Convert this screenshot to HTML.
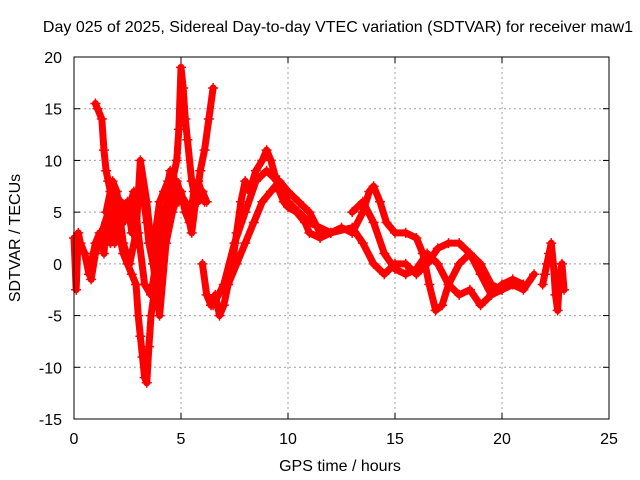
<!DOCTYPE html>
<html><head><meta charset="utf-8">
<style>
body{margin:0;background:#fff;}
svg{display:block;font-family:"Liberation Sans",sans-serif;}
</style></head>
<body>
<svg id="chart" width="640" height="480">
<rect width="640" height="480" fill="#fff"/>
<text x="338" y="32" text-anchor="middle" font-size="16">Day 025 of 2025, Sidereal Day-to-day VTEC variation (SDTVAR) for receiver maw1</text>
<text x="340" y="471" text-anchor="middle" font-size="16">GPS time / hours</text>
<text transform="translate(20,238) rotate(-90)" text-anchor="middle" font-size="16">SDTVAR / TECUs</text>
<g id="grid"></g>
<g id="marks"></g>
<rect x="74" y="57" width="535" height="362" fill="none" stroke="#000" stroke-width="1"/>
</svg>
<script>
const xTicks=[0,5,10,15,20,25];
const yTicks=[-15,-10,-5,0,5,10,15,20];
const seriesA_x=[0,0.1,0.2,0.3,0.5,0.7,0.8,1.0,1.2,1.4,1.5,1.7,1.9,2.0,2.2,2.3,2.5,2.7,2.9,3.0,3.2,3.4,3.5,3.7,3.8,4.0,4.2,4.4,4.5,4.7,4.9,5.0,5.2,5.4,5.6,5.8,6.0,6.2];
const seriesA_y=[2.5,-2.5,3,2,1,-1,0,2,3,1,4,2,5,3,6,4,6,3,7,6,7,4,2,0,3,6,7,8,9,7,6,7,5,4,7,6,7,6];
const seriesB_x=[1.0,1.1,1.3,1.4,1.5,1.6,1.7,1.9,2.1,2.3,2.5,2.7,2.9,3.0,3.1,3.2,3.3,3.4,3.5,3.6,3.8,4.0,4.2,4.4,4.6,4.8,4.9,5.0,5.1,5.2,5.3,5.5,5.7,5.9,6.1,6.3,6.5];
const seriesB_y=[15.5,15,14,11,9,8,7,5,3,1,0,-1,-2,-5,-7,-9,-11,-11.5,-8,-5,-2,0,3,5,8,10,13,19,17,14,12,8,6,9,11,14,17];
const seriesC_x=[6.0,6.2,6.4,6.6,6.8,7.0,7.2,7.4,7.6,7.8,8.0,8.2,8.5,8.8,9.0,9.2,9.4,9.6,9.8,10.0,10.4,10.8,11.0,11.5,12.0,12.5,13.0,13.5,13.8,14.0,14.3,14.6,15.0,15.5,16.0,16.3,16.6,16.9,17.2,17.5,18.0,18.5,19.0,19.5,20.0,20.5,21.0,21.5];
const seriesC_y=[0,-3,-4,-3,-5,-4,-2,0,3,6,8,7,9,10,11,10,8.5,7,6,5.5,5,4,3,2.5,3,3.5,3,5,7,7.5,6,4,3,3,2.5,1,-2,-4.5,-4,-2,0,1,0,-2,-2.5,-2,-2.5,-1];
const seriesD_x=[6.5,7.0,7.5,8.0,8.5,9.0,9.5,10.0,10.5,11.0,12.0,13.0,13.5,14.0,14.5,15.0,15.5,16.0,16.5,17.0,17.5,18.0,18.5,19.0,19.5,20.0,20.5,21.0];
const seriesD_y=[-4,-2,2,5,8,9,8,6,5,4,3,3.5,2,0,-1,0,0,-1,0,1.5,2,2,1,-1,-3,-2,-1.5,-2];
const seriesE_x=[13.0,13.5,14.0,14.5,15.0,15.5,16.0,16.5,17.0,17.5,18.0,18.5,19.0,19.5,20.0];
const seriesE_y=[5,6,4,1,-0.5,-1,-0.5,1,0,-2,-3,-2.5,-4,-3,-2.5];
const seriesF_x=[21.9,22.0,22.1,22.2,22.3,22.4,22.5,22.6,22.7,22.8,22.9];
const seriesF_y=[-2,-1,0,1,2,0,-3,-4.5,-1,0,-2.5];
const seriesG_x=[0.5,0.8,1.0,1.3,1.6,1.9,2.2,2.5,2.8,3.0,3.3,3.6,3.9,4.2,4.5,4.8,5.1,5.4,5.7,6.0];
const seriesG_y=[1,-1.5,1,3,5,2,4,5,7,3,-2,-3,1,5,7,8,6,5,6,7];
const seriesH_x=[1.5,1.8,2.0,2.3,2.6,2.9,3.1,3.4,3.7,4.0,4.3,4.6,4.9,5.2,5.5,5.8,6.1];
const seriesH_y=[5,8,7,2,0,3,10,6,0,-5,2,5,7,6,3,8,6];
const seriesI_x=[7.2,7.6,8.0,8.4,8.8,9.2,9.6,10.0,10.5,11.0,11.5,12.0];
const seriesI_y=[-2,0,2,4,6,7,8,7,6,5,3,3];
const seriesList=[[seriesA_x,seriesA_y],[seriesB_x,seriesB_y],[seriesC_x,seriesC_y],[seriesD_x,seriesD_y],[seriesE_x,seriesE_y],[seriesF_x,seriesF_y],[seriesG_x,seriesG_y],[seriesH_x,seriesH_y],[seriesI_x,seriesI_y]];

const L=74,R=609,T=57,B=419,xmin=0,xmax=25,ymin=-15,ymax=20;
const sx=v=>L+(v-xmin)/(xmax-xmin)*(R-L);
const sy=v=>B-(v-ymin)/(ymax-ymin)*(B-T);
const NS="http://www.w3.org/2000/svg";
const grid=document.getElementById('grid'),marks=document.getElementById('marks');
function mk(tag,attrs,parent){const e=document.createElementNS(NS,tag);for(const k in attrs)e.setAttribute(k,attrs[k]);parent.appendChild(e);return e;}
xTicks.forEach(t=>{
  const x=sx(t);
  if(t>0&&t<25){const g=mk('line',{x1:x,x2:x,y1:T,y2:B,stroke:'#a0a0a0','stroke-dasharray':'2,3'},grid);
  
  }
  mk('line',{x1:x,x2:x,y1:B,y2:B-6,stroke:'#000'},grid);
  mk('line',{x1:x,x2:x,y1:T,y2:T+6,stroke:'#000'},grid);
  const tx=mk('text',{x:x,y:B+25,'text-anchor':'middle','font-size':16},grid);
  tx.textContent=t;
  
  
});
yTicks.forEach(t=>{
  const y=sy(t);
  if(t>-15&&t<20){const g=mk('line',{x1:L,x2:R,y1:y,y2:y,stroke:'#a0a0a0','stroke-dasharray':'2,3'},grid);
  
  }
  mk('line',{x1:L,x2:L+6,y1:y,y2:y,stroke:'#000'},grid);
  mk('line',{x1:R,x2:R-6,y1:y,y2:y,stroke:'#000'},grid);
  const tx=mk('text',{x:L-12,y:y+6,'text-anchor':'end','font-size':16},grid);
  tx.textContent=t;
  
  
});
seriesList.forEach((s,i)=>{
  const [xs,ys]=s;
  const pts=xs.map((x,j)=>sx(x)+','+sy(ys[j])).join(' ');
  const pl=mk('polyline',{points:pts,fill:'none',stroke:'#ff0000','stroke-width':7,'stroke-linejoin':'round','stroke-linecap':'round'},marks);
  
  
  xs.forEach((x,j)=>{
    const px=sx(x),py=sy(ys[j]);
    const p=mk('path',{d:`M${px-5},${py}H${px+5}M${px},${py-5}V${py+5}`,stroke:'#ff0000','stroke-width':1.5},marks);
    
    
  });
});
</script>
</body></html>
